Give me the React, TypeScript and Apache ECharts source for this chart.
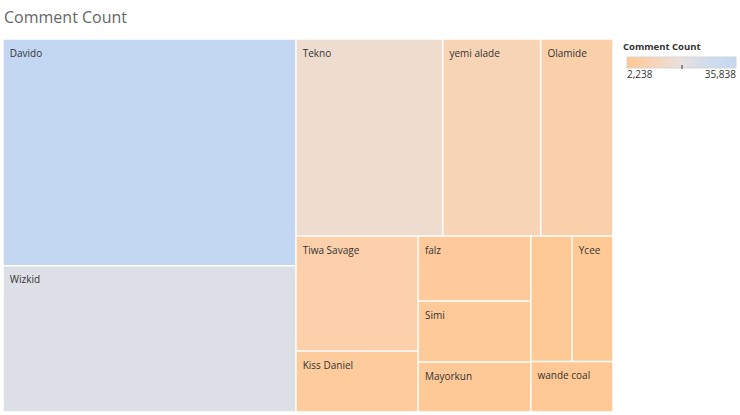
import React, { useEffect, useRef } from "react";
import * as echarts from "echarts";

const ARTISTS = [
  "Davido",
  "Wizkid",
  "Tekno",
  "yemi alade",
  "Olamide",
  "Tiwa Savage",
  "Kiss Daniel",
  "falz",
  "Simi",
  "Mayorkun",
  "Runtown",
  "Ycee",
  "wande coal",
];
const COMMENT_COUNTS = [35838, 23128, 15593, 10416, 7685, 7589, 4025, 3953, 3709, 3040, 2795, 2780, 2238];
const HIDDEN_LABELS = ["Runtown"];
const COLOR_STOPS = ["#ffc894", "#f8d4b8", "#e7e1de", "#d0dcee", "#c3d7f3"];
const TITLE = "Comment Count";
const LEGEND_TITLE = "Comment Count";

const FONT = "'Open Sans', 'Noto Sans', sans-serif";

export default function App() {
  const ref = useRef<HTMLDivElement>(null);
  useEffect(() => {
    document.body.style.margin = "0";
    if (!ref.current) return;
    const chart = echarts.init(ref.current, undefined, { renderer: "svg" });
    const minV = Math.min(...COMMENT_COUNTS);
    const maxV = Math.max(...COMMENT_COUNTS);
    const fmt = (v: number) => v.toLocaleString("en-US");
    const data = ARTISTS.map((name, i) => ({
      name,
      value: COMMENT_COUNTS[i],
      label: HIDDEN_LABELS.includes(name) ? { show: false } : undefined,
    }));
    const gradientStops = COLOR_STOPS.map((c, i) => ({ offset: i / (COLOR_STOPS.length - 1), color: c }));
    chart.setOption({
      animation: false,
      title: {
        text: TITLE,
        left: 4,
        top: 9,
        padding: 0,
        textStyle: { fontSize: 16, fontWeight: "normal", color: "#666", fontFamily: FONT },
      },
      tooltip: { show: false },
      series: [
        {
          type: "treemap",
          left: 3,
          top: 39,
          width: 610,
          height: 373,
          roam: false,
          nodeClick: false,
          sort: false,
          squareRatio: 0.5 * (1 + Math.sqrt(5)),
          breadcrumb: { show: false },
          label: {
            show: true,
            position: "insideTopLeft",
            distance: 0,
            padding: [8, 0, 0, 6],
            fontSize: 10,
            color: "#333",
            fontFamily: FONT,
          },
          itemStyle: { borderColor: "#fff", borderWidth: 0.75, gapWidth: 0 },
          emphasis: { disabled: true },
          levels: [
            {
              color: COLOR_STOPS,
              colorMappingBy: "value",
              visualMin: minV,
              visualMax: maxV,
              itemStyle: { borderWidth: 0, gapWidth: 0 },
            },
            {
              itemStyle: { borderColor: "#fff", borderWidth: 0.75, gapWidth: 0 },
            },
          ],
          data,
        },
      ],
      graphic: [
        {
          type: "text",
          left: 623,
          top: 41,
          style: { text: LEGEND_TITLE, fontSize: 9.5, fontWeight: "bold", fill: "#333", fontFamily: FONT },
        },
        {
          type: "rect",
          shape: { x: 627, y: 57, width: 109, height: 11 },
          style: {
            fill: new echarts.graphic.LinearGradient(0, 0, 1, 0, gradientStops),
            stroke: "#d4d4d4",
            lineWidth: 1,
          },
        },
        {
          type: "line",
          shape: { x1: 682, y1: 65, x2: 682, y2: 69 },
          style: { stroke: "#333", lineWidth: 1 },
        },
        {
          type: "text",
          left: 627,
          top: 69,
          style: { text: fmt(minV), fontSize: 10, fill: "#333", fontFamily: FONT },
        },
        {
          type: "text",
          right: 4,
          top: 69,
          style: { text: fmt(maxV), fontSize: 10, fill: "#333", fontFamily: FONT },
        },
      ],
    });
    return () => chart.dispose();
  }, []);
  return <div ref={ref} style={{ width: 740, height: 415, background: "#fff" }} />;
}
